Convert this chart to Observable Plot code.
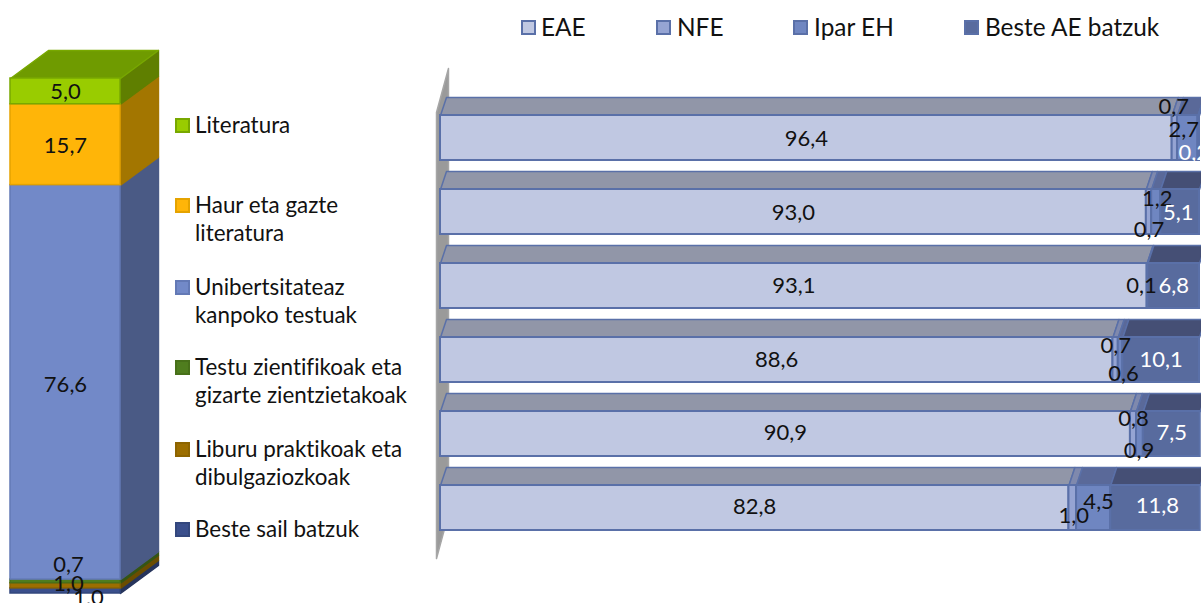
<!DOCTYPE html>
<html><head><meta charset="utf-8">
<script src="https://cdn.jsdelivr.net/npm/d3@7"></script>
<script src="https://cdn.jsdelivr.net/npm/@observablehq/plot@0.6"></script>
<style>
html,body{margin:0;padding:0;background:#fff;overflow:hidden}
#page{position:relative;width:1201px;height:603px;overflow:hidden;font-family:Lato,sans-serif;color:#111;font-variant-ligatures:none}
#page svg{position:absolute;top:0;background:transparent}
.lg{position:absolute;font-size:22.4px;line-height:28px;white-space:nowrap}
.sw{position:absolute;width:11px;height:11px;border:2px solid}
.tl{position:absolute;font-size:24.4px;line-height:30px;white-space:nowrap;top:12px}
</style></head><body><div id="page"></div>
<script>
// ---- data: left column (bottom to top)
const genres = ["Beste sail batzuk","Liburu praktikoak eta dibulgaziozkoak","Testu zientifikoak eta gizarte zientzietakoak","Unibertsitateaz kanpoko testuak","Haur eta gazte literatura","Literatura"];
const genreValues = [1.0,1.0,0.7,76.6,15.7,5.0];
const genreLabels = ["1,0","1,0","0,7","76,6","15,7","5,0"];
// ---- data: right bars (top to bottom)
const regions = ["EAE","NFE","Ipar EH","Beste AE batzuk"];
const eae   = [96.4,93.0,93.1,88.6,90.9,82.8];
const nfe   = [0.7,0.7,0.1,0.7,0.8,1.0];
const ipar  = [2.7,1.2,0,0.6,0.9,4.5];
const beste = [0.2,5.1,6.8,10.1,7.5,11.8];

// ---- styles
const genreFill   = ["#3a4f8c","#9c6e00","#4f7d1e","#7289c8","#ffb508","#99cc00"];
const genreStroke = ["#33477d","#8d6400","#477019","#6379b5","#e5a300","#78a800"];
const genreSide   = ["#26345c","#6b4d00","#355514","#4a5a85","#a37600","#5f7f00"];
const genreTop = "#6f9b00";
const regionFill = ["#c0c8e2","#95a4d3","#6f86c1","#586b9e"];
const regionTop  = ["#9196a8","#7f89ad","#5a6999","#454f75"];
const barStroke = "#5a70a8";
// label nudges in pixels
const genreNudge = [[23,7],[3,-2],[3,-16],[0,3],[0,1],[0,1]];
const rowNudge = [
 [[0,1],[-1,-31],[-4,-8],[-5,15]],
 [[0,1],[0,18],[1,-13],[-2,1]],
 [[0,0],[-6,0],null,[0,0]],
 [[0,0],[0,-14],[3,14],[0,0]],
 [[0,-1],[0,-15],[-1,17],[0,-1]],
 [[0,-1],[1,8],[5,-6],[2,-2]]
];
const fmt = v => v.toFixed(1).replace(".",",");
const font = "Lato, sans-serif";
const closed = (rows, o={}) => Plot.line(rows,{x:"x",y:"y",z:"id",fill:"fill",stroke:"stroke",strokeWidth:1.5,curve:"linear-closed",...o});

// ---- left chart
{
  const depthX=0.345, depthY=5.44;
  let acc=0;
  const seg=genreValues.map((v,i)=>{const s={i,y1:acc,y2:acc+v,v};acc+=v;return s;});
  const total=acc;
  const side=seg.flatMap(s=>[[1,s.y1],[1+depthX,s.y1+depthY],[1+depthX,s.y2+depthY],[1,s.y2]]
    .map(([x,y])=>({x,y,id:"s"+s.i,fill:genreSide[s.i],stroke:genreSide[s.i]})));
  const top=[[0,total],[depthX,total+depthY],[1+depthX,total+depthY],[1,total]]
    .map(([x,y])=>({x,y,id:"top",fill:genreTop,stroke:"#78a800"}));
  const p=Plot.plot({width:175,height:603,margin:0,
    x:{domain:[0,1],range:[10,120],axis:null},
    y:{domain:[0,100],range:[593,78],axis:null},
    marks:[
      closed(side),closed(top),
      Plot.rect(seg,{x1:0,x2:1,y1:"y1",y2:"y2",fill:d=>genreFill[d.i],stroke:d=>genreStroke[d.i],strokeWidth:1.5}),
      ...seg.map(s=>Plot.text([s],{x:0.5,y:d=>(d.y1+d.y2)/2,text:d=>genreLabels[d.i],fontSize:22,fontFamily:font,fill:"#111",
        dx:genreNudge[s.i][0],dy:genreNudge[s.i][1]}))
    ]});
  p.style.left="0px";p.style.overflow="visible";
  document.getElementById("page").append(p);
}

// ---- right chart
{
  const rowH=0.608, dX=0.79, dY=0.243;
  const series=[eae,nfe,ipar,beste];
  const segs=[];
  eae.forEach((_,r)=>{let a=0;series.forEach((sv,k)=>{const v=sv[r];
    if(v>0) segs.push({r,k,a,b:a+v,v});a+=v;});});
  const tops=segs.flatMap(s=>[[s.a,s.r],[s.a+dX,s.r-dY],[s.b+dX,s.r-dY],[s.b,s.r]]
    .map(([x,y])=>({x,y,id:s.r+"-"+s.k,fill:regionTop[s.k],stroke:barStroke})));
  const wall=[[-0.527,-0.04],[1.05,-0.635],[1.05,5.39],[-0.527,5.986]]
    .map(([x,y])=>({x,y,id:"wall",fill:"#9a9a9a",stroke:"#a6a6a6"}));
  const p=Plot.plot({width:1201,height:603,margin:0,
    x:{domain:[0,100],range:[440,1199],axis:null},
    y:{domain:[0,5+rowH],range:[115,530],axis:null},
    marks:[
      closed(wall),closed(tops),
      Plot.rect(segs,{x1:"a",x2:"b",y1:"r",y2:d=>d.r+rowH,fill:d=>regionFill[d.k],stroke:barStroke,strokeWidth:2}),
      ...segs.map(s=>{const n=rowNudge[s.r][s.k];
        return Plot.text([s],{x:d=>(d.a+d.b)/2,y:d=>d.r+rowH/2,text:d=>fmt(d.v),fontSize:22,fontFamily:font,
          fill:s.k===3?"#fff":"#111",dx:n[0],dy:n[1]});})
    ]});
  p.style.left="0px";
  document.getElementById("page").append(p);
}

// ---- legends
const page=document.getElementById("page");
const add=(cls,css,html)=>{const e=document.createElement("div");e.className=cls;e.style.cssText=css;e.innerHTML=html;page.append(e);return e;};
const sideLegend=[[5,125,"Literatura"],[4,205,"Haur eta gazte<br>literatura"],[3,287,"Unibertsitateaz<br>kanpoko testuak"],
  [2,367,"Testu zientifikoak eta<br>gizarte zientzietakoak"],[1,449,"Liburu praktikoak eta<br>dibulgaziozkoak"],[0,529,"Beste sail batzuk"]];
sideLegend.forEach(([i,y,t])=>{
  add("sw",`left:175px;top:${y-7}px;background:${genreFill[i]};border-color:${genreStroke[i]}`,"");
  add("lg",`left:195px;top:${y-14}px`,t);
});
const topX=[[521,541],[656,677],[793,814],[964,985]];
regions.forEach((t,k)=>{
  add("sw",`left:${topX[k][0]}px;top:20px;background:${regionFill[k]};border-color:${barStroke}`,"");
  add("tl",`left:${topX[k][1]}px`,t);
});
</script></body></html>
